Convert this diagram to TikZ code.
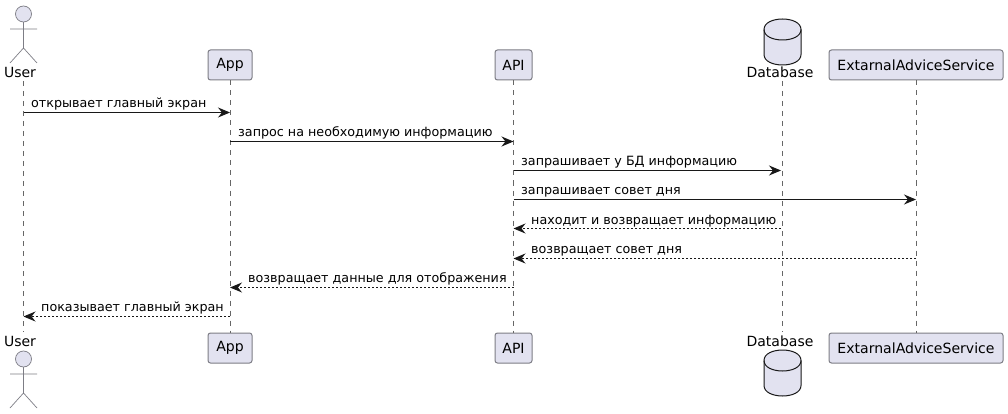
\documentclass[tikz,border=0pt]{standalone}
\usepackage{fontspec}
\setmainfont{DejaVu Sans}
\usetikzlibrary{arrows.meta}
\definecolor{pfill}{HTML}{E2E2F0}
\definecolor{pline}{HTML}{7D7D85}
\definecolor{lline}{HTML}{666666}
\definecolor{ink}{HTML}{181818}
\tikzset{
  x=1pt,y=-1pt,
  pbox/.style={draw=pline,fill=pfill,rounded corners=2.5pt,line width=1pt,minimum height=30pt,inner xsep=0pt,inner ysep=0pt,text=black,font=\fontsize{14.05}{16}\selectfont,anchor=center},
  plabel/.style={inner sep=0pt,text=black,font=\fontsize{14}{16}\selectfont,anchor=center},
  mlabel/.style={inner sep=0pt,text=black,font=\fontsize{12.72}{15}\selectfont,anchor=base west},
  lifeline/.style={draw=lline,line width=.7pt,dash pattern=on 5pt off 5pt},
  actorline/.style={draw=pline,line width=.7pt},
  msg/.style={draw=ink,line width=1pt,-{Stealth[length=12pt,width=10pt,inset=4pt]}},
  ret/.style={msg,dash pattern=on 2pt off 2pt},
}
\newcommand{\actorfig}[2]{% x, head y
  \begin{scope}[shift={(#1,#2)}]
    \draw[actorline] (0,8) -- (0,34) (-13.5,15) -- (13.5,15) (-13.5,49) -- (0,34) -- (13.5,49);
    \draw[actorline,fill=pfill] (0,0) circle[radius=8];
  \end{scope}}
\newcommand{\dbfig}[2]{% centre x, top y
  \begin{scope}[shift={(#1,#2)}]
    \draw[draw=ink,fill=pfill,line width=1pt] (-18.5,10.5) .. controls (-18.5,-3.5) and (18.5,-3.5) .. (18.5,10.5) -- (18.5,35.5) .. controls (18.5,49.5) and (-18.5,49.5) .. (-18.5,35.5) -- cycle;
    \draw[draw=ink,line width=1pt] (-18.5,10.5) .. controls (-18.5,24.5) and (18.5,24.5) .. (18.5,10.5);
  \end{scope}}
\begin{document}
\begin{tikzpicture}
\useasboundingbox (0,0) rectangle (1008,414);
\fill[white] (0,0) rectangle (1008,414);
% heads and feet
\node[plabel] (ut) at (20,72.5) {User};
\node[plabel] (ub) at (20,341.5) {User};
\node[pbox,minimum width=44pt] (at) at (230,65) {App};
\node[pbox,minimum width=44pt] (ab) at (230,348) {App};
\node[pbox,minimum width=37pt] (pt) at (513.5,65) {API};
\node[pbox,minimum width=37pt] (pb) at (513.5,348) {API};
\node[plabel] (dt) at (780,72.5) {Database};
\node[plabel] (db) at (780,341.5) {Database};
\node[pbox,minimum width=174pt] (et) at (916,65) {ExtarnalAdviceService};
\node[pbox,minimum width=174pt] (eb) at (916,348) {ExtarnalAdviceService};
% lifeline ends
\coordinate (ul1) at (23.5,81); \coordinate (ul2) at (23.5,332);
\coordinate (dl1) at (782.5,81); \coordinate (dl2) at (782.5,332);
\draw[lifeline] (ul1) -- (ul2);
\draw[lifeline] (at.south) -- (ab.north);
\draw[lifeline] (pt.south) -- (pb.north);
\draw[lifeline] (dl1) -- (dl2);
\draw[lifeline] (et.south) -- (eb.north);
\actorfig{23.5}{14}
\actorfig{23.5}{359}
\dbfig{782.5}{19}
\dbfig{782.5}{350}
% message anchors
\foreach \n/\y in {1/112.5,2/141.5,3/170.5,4/199.5,5/228.5,6/258.5,7/287.5,8/316.5}{
  \coordinate (U\n) at (23.5,\y);
  \coordinate (A\n) at (230,\y);
  \coordinate (P\n) at (513.5,\y);
  \coordinate (D\n) at (781,\y);
  \coordinate (E\n) at (916,\y);
}
\draw[msg] (U1) -- (A1);
\draw[msg] (A2) -- (P2);
\draw[msg] (P3) -- (D3);
\draw[msg] (P4) -- (E4);
\draw[ret] (D5) -- (P5);
\draw[ret] (E6) -- (P6);
\draw[ret] (P7) -- (A7);
\draw[ret] (A8) -- (U8);
\node[mlabel] (m1) at (31,107.5) {открывает главный экран};
\node[mlabel] (m2) at (238,136.5) {запрос на необходимую информацию};
\node[mlabel] (m3) at (521,165.5) {запрашивает у БД информацию};
\node[mlabel] (m4) at (521,194.5) {запрашивает совет дня};
\node[mlabel] (m5) at (531,224) {находит и возвращает информацию};
\node[mlabel] (m6) at (531,253.5) {возвращает совет дня};
\node[mlabel] (m7) at (248,282.5) {возвращает данные для отображения};
\node[mlabel] (m8) at (41,311.5) {показывает главный экран};
\end{tikzpicture}
\end{document}
